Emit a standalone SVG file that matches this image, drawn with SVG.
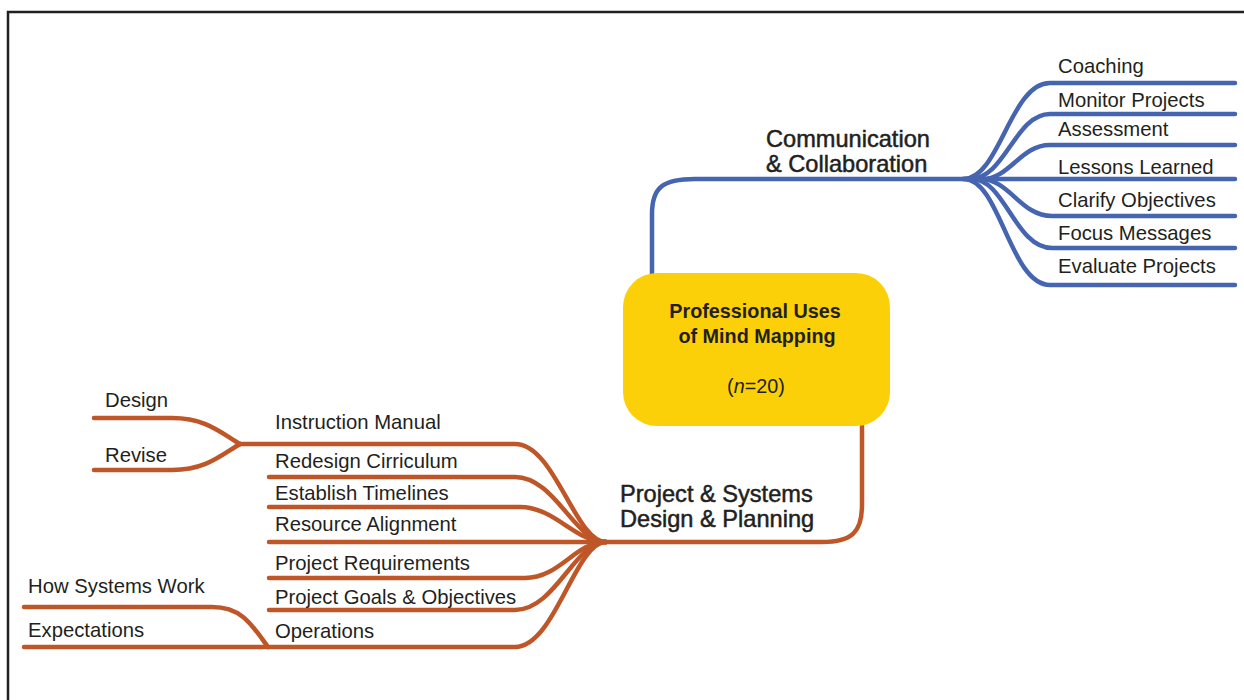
<svg xmlns="http://www.w3.org/2000/svg" width="1244" height="700" viewBox="0 0 1244 700">
<style>
.t{font-family:"Liberation Sans",Arial,sans-serif;font-size:20.3px;fill:#231F20}
.h{font-family:"Liberation Sans",Arial,sans-serif;font-size:23.6px;fill:#231F20;stroke:#231F20;stroke-width:0.5px}
.c{font-family:"Liberation Sans",Arial,sans-serif;font-size:19.8px;fill:#231F20;text-anchor:middle}
.b{fill:none;stroke:#4565B0;stroke-width:4.5;stroke-linecap:round;stroke-linejoin:round}
.o{fill:none;stroke:#BE5628;stroke-width:4.5;stroke-linecap:round;stroke-linejoin:round}
</style>
<rect x="0" y="0" width="1244" height="700" fill="#FFFFFF"/>
<path d="M8,700 V12 H1244" fill="none" stroke="#231F20" stroke-width="2.5"/>
<g id="connectors">
<path class="b" d="M652,275 V214 C652,188 662,179 695,179 H963"/>
<path class="b" d="M963,179 C1000,179 1010,83 1050,83 H1235"/>
<path class="b" d="M970,179 C1005,179 1015,114 1050,114 H1235"/>
<path class="b" d="M982,179 C1010,179 1020,145 1050,145 H1235"/>
<path class="b" d="M963,179 H1235"/>
<path class="b" d="M980,179 C1010,179 1020,216 1052,216 H1235"/>
<path class="b" d="M972,179 C1005,179 1015,248 1052,248 H1235"/>
<path class="b" d="M964,179 C1000,179 1010,285 1050,285 H1235"/>
<path class="o" d="M862,426 V505 C862,532 852,542 822,542 H606"/>
<path class="o" d="M240,444 H515 C555,444 575,542 606,542"/>
<path class="o" d="M269,477 H515 C555,477 575,542 606,542"/>
<path class="o" d="M269,507 H520 C555,507 575,542 606,542"/>
<path class="o" d="M269,542 H606"/>
<path class="o" d="M269,578 H525 C560,578 575,542 606,542"/>
<path class="o" d="M269,610 H515 C555,610 575,542 606,542"/>
<path class="o" d="M24,647 H515 C555,647 575,542 606,542"/>
<path class="o" d="M94,418 H172 C205,418 220,432 240,444"/>
<path class="o" d="M94,470 H172 C205,470 220,456 240,444"/>
<path class="o" d="M24,607 H212 C242,607 252,625 268,647"/>
</g>
<g id="center">
<rect x="623" y="273" width="267" height="153" rx="34" fill="#FCD008"/>
<text class="c" x="755" y="318" font-weight="bold">Professional Uses</text>
<text class="c" x="757" y="343" font-weight="bold">of Mind Mapping</text>
<text class="c" x="756" y="393">(<tspan font-style="italic">n</tspan>=20)</text>
</g>
<g id="comm"><text class="h" x="766" y="147">Communication</text><text class="h" x="766" y="172">&amp; Collaboration</text></g>
<g id="coaching"><text class="t" x="1058" y="73">Coaching</text></g>
<g id="monitor"><text class="t" x="1058" y="107">Monitor Projects</text></g>
<g id="assessment"><text class="t" x="1058" y="136">Assessment</text></g>
<g id="lessons"><text class="t" x="1058" y="174">Lessons Learned</text></g>
<g id="clarify"><text class="t" x="1058" y="207">Clarify Objectives</text></g>
<g id="focus"><text class="t" x="1058" y="240">Focus Messages</text></g>
<g id="evaluate"><text class="t" x="1058" y="273">Evaluate Projects</text></g>
<g id="project"><text class="h" x="620" y="502">Project &amp; Systems</text><text class="h" x="620" y="527">Design &amp; Planning</text></g>
<g id="design"><text class="t" x="105" y="407">Design</text></g>
<g id="revise"><text class="t" x="105" y="462">Revise</text></g>
<g id="manual"><text class="t" x="275" y="429">Instruction Manual</text></g>
<g id="redesign"><text class="t" x="275" y="468">Redesign Cirriculum</text></g>
<g id="timelines"><text class="t" x="275" y="500">Establish Timelines</text></g>
<g id="resource"><text class="t" x="275" y="531">Resource Alignment</text></g>
<g id="requirements"><text class="t" x="275" y="570">Project Requirements</text></g>
<g id="goals"><text class="t" x="275" y="604">Project Goals &amp; Objectives</text></g>
<g id="operations"><text class="t" x="275" y="638">Operations</text></g>
<g id="howsystems"><text class="t" x="28" y="593">How Systems Work</text></g>
<g id="expectations"><text class="t" x="28" y="637">Expectations</text></g>
</svg>
